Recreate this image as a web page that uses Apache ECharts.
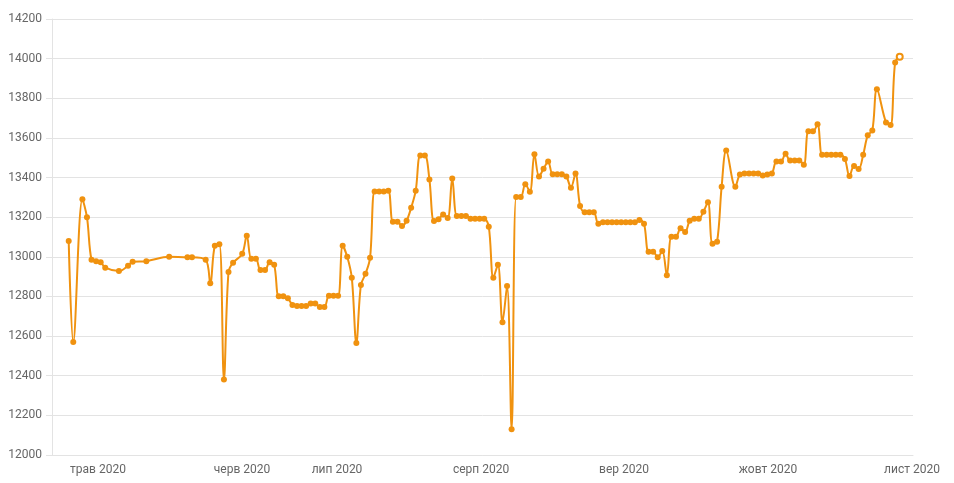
<!DOCTYPE html>
<html>
<head>
<meta charset="utf-8">
<script src="https://cdn.jsdelivr.net/npm/echarts@6/dist/echarts.min.js"></script>
<style>
html,body{margin:0;padding:0;background:#fff;}
#chart{width:954px;height:483px;}
</style>
</head>
<body>
<div id="chart"></div>
<script>
// slot index of each observation (gaps = missing days)
const slots = [0,1,3,4,5,6,7,8,11,13,14,17,22,26,27,30,31,32,33,34,35,36,
  38,39,40,41,42,43,44,45,46,47,48,49,50,51,52,53,54,55,56,57,58,59,60,
  61,62,63,64,65,66,67,68,69,70,71,72,73,74,75,76,77,78,79,80,81,82,83,84,
  85,86,87,88,89,90,91,92,93,94,95,96,97,98,99,100,101,102,103,104,105,106,
  107,108,109,110,111,112,113,114,115,116,117,118,119,120,121,122,123,124,
  125,126,127,128,129,130,131,132,133,134,135,136,137,138,139,140,141,142,
  143,144,146,147,148,149,150,151,152,153,154,155,156,157,158,159,160,161,
  162,163,164,165,166,167,168,169,170,171,172,173,174,175,176,177,179,180,181,182];
const values = [13080,12570,13290,13200,12985,12978,12973,12945,12928,12955,12975,12978,13000,12998,12998,12985,12867,13056,13063,12381,12924,12970,
  13015,13106,12990,12990,12933,12933,12972,12960,12801,12801,12791,12757,12752,12752,12752,12764,12764,12747,12747,12803,12803,12803,13056,
  13000,12894,12565,12858,12914,12995,13329,13329,13329,13334,13177,13177,13155,13182,13248,13334,13511,13511,13390,13181,13189,13213,13196,13395,
  13206,13206,13206,13192,13192,13192,13192,13152,12894,12960,12670,12853,12130,13302,13302,13366,13328,13518,13405,13444,13481,13417,
  13417,13417,13405,13349,13420,13257,13225,13225,13225,13167,13174,13174,13174,13174,13174,13174,13174,13174,
  13186,13167,13025,13025,12998,13029,12907,13101,13101,13144,13125,13182,13192,13192,13228,13275,13066,13076,
  13354,13536,13353,13415,13420,13420,13420,13420,13410,13415,13420,13481,13481,13520,13486,13486,13486,13464,
  13633,13633,13669,13515,13515,13515,13515,13515,13493,13408,13458,13443,13515,13613,13638,13845,13678,13665,13981,14010];
// month tick labels and their positions on the slot scale
const monthLabels = ['трав 2020','черв 2020','лип 2020','серп 2020','вер 2020','жовт 2020','лист 2020'];
const monthPos = [6.42, 37.95, 58.76, 90.30, 121.62, 153.15, 184.69];
const yTicks = [12000,12200,12400,12600,12800,13000,13200,13400,13600,13800,14000,14200];

const ORANGE = '#f0920f';
const data = slots.map((s, i) => {
  const d = {value: [s, values[i]]};
  if (i === slots.length - 1) d.itemStyle = {color: '#fff', borderColor: ORANGE, borderWidth: 2};
  return d;
});

const chart = echarts.init(document.getElementById('chart'), null, {renderer: 'canvas'});
chart.setOption({
  animation: false,
  grid: {left: 52, right: 41, top: 19, bottom: 28},
  xAxis: {
    type: 'value',
    min: -3.657,
    max: 184.91,
    splitLine: {show: false},
    axisLine: {show: true, onZero: false, lineStyle: {color: '#e3e3e3'}},
    axisTick: {show: false},
    axisLabel: {
      customValues: monthPos,
      margin: 9,
      color: '#666',
      fontSize: 12,
      fontFamily: 'Roboto, sans-serif',
      formatter: function (v) {
        let best = 0, bd = Infinity;
        monthPos.forEach((p, i) => { const d = Math.abs(p - v); if (d < bd) { bd = d; best = i; } });
        return monthLabels[best];
      }
    }
  },
  yAxis: {
    type: 'value',
    min: yTicks[0],
    max: yTicks[yTicks.length - 1],
    interval: 200,
    axisLine: {show: true, onZero: false, lineStyle: {color: '#e3e3e3'}},
    axisTick: {show: true, length: 6, lineStyle: {color: '#e3e3e3'}},
    splitLine: {show: true, lineStyle: {color: '#e3e3e3'}},
    axisLabel: {
      color: '#666', fontSize: 12, margin: 10, fontFamily: 'Roboto, sans-serif',
      formatter: function (v) { return String(v); }
    }
  },
  series: [{
    type: 'line',
    data: data,
    smooth: 0.35,
    symbol: 'circle',
    symbolSize: 6,
    showSymbol: true,
    lineStyle: {color: ORANGE, width: 2},
    itemStyle: {color: ORANGE}
  }]
});
</script>
</body>
</html>
